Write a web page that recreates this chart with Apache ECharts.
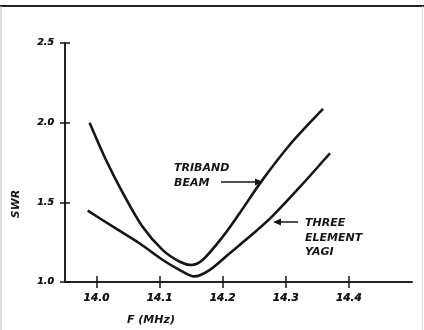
<!DOCTYPE html>
<html>
<head>
<meta charset="utf-8">
<script src="https://cdn.jsdelivr.net/npm/echarts@6/dist/echarts.min.js"></script>
<style>html,body{margin:0;padding:0;background:#fff;}#c{width:424px;height:330px;}</style>
</head>
<body>
<div id="c"></div>
<script>
// Data
var xTicks = [14.0, 14.1, 14.2, 14.3, 14.4];
var yTicks = [1.0, 1.5, 2.0, 2.5];
var tribandFreq = [13.989, 14.015, 14.042, 14.073, 14.105, 14.132, 14.150, 14.168, 14.200, 14.227, 14.261, 14.306, 14.359];
var tribandSwr  = [2.00, 1.766, 1.557, 1.347, 1.20, 1.127, 1.107, 1.138, 1.284, 1.433, 1.630, 1.860, 2.086];
var yagiFreq = [13.986, 14.026, 14.068, 14.105, 14.132, 14.155, 14.179, 14.211, 14.253, 14.278, 14.322, 14.370];
var yagiSwr  = [1.448, 1.347, 1.243, 1.138, 1.075, 1.035, 1.075, 1.180, 1.320, 1.410, 1.595, 1.808];
var seriesNames = ['TRIBAND\nBEAM', 'THREE\nELEMENT\nYAGI'];

function pairs(xs, ys) { return xs.map(function (x, i) { return [x, ys[i]]; }); }

var font = 'DejaVu Sans';
var ink = '#151515';
var chart = echarts.init(document.getElementById('c'), null, {renderer: 'canvas'});

var baseX = {
  type: 'value', min: 13.95, max: 14.5, position: 'bottom',
  splitLine: {show: false},
  axisLine: {show: true, lineStyle: {color: ink, width: 1.5}},
  axisTick: {show: true, customValues: xTicks, length: 6, lineStyle: {color: ink, width: 1.5}},
  axisLabel: {show: true, customValues: xTicks, margin: 11, color: ink, fontFamily: font, fontSize: 10.5,
    fontWeight: 'bold', fontStyle: 'italic', formatter: function (v) { return v.toFixed(1); }}
};
var baseY = {
  type: 'value', min: 1.0, max: 2.5, interval: 0.5, position: 'left',
  splitLine: {show: false},
  axisLine: {show: true, lineStyle: {color: ink, width: 1.5}},
  axisTick: {show: true, length: 5, lineStyle: {color: ink, width: 1.5}},
  axisLabel: {show: true, margin: 11, color: ink, fontFamily: font, fontSize: 9.5,
    fontWeight: 'bold', fontStyle: 'italic', formatter: function (v) { return v.toFixed(1); }}
};
var innerX = echarts.util.merge(echarts.util.clone(baseX), {
  axisLine: {show: false}, axisLabel: {show: false}, axisTick: {inside: true}
});
var innerY = echarts.util.merge(echarts.util.clone(baseY), {
  axisLine: {show: false}, axisLabel: {show: false}, axisTick: {inside: true}
});

var txt = {fontFamily: font, fontSize: 11, fontWeight: 'bold', fontStyle: 'italic', fill: ink};

chart.setOption({
  animation: false,
  backgroundColor: '#fff',
  grid: {left: 65, right: 12, top: 43, bottom: 48},
  xAxis: [baseX, innerX],
  yAxis: [baseY, innerY],
  series: [
    {name: seriesNames[0], type: 'line', xAxisIndex: 0, yAxisIndex: 0, data: pairs(tribandFreq, tribandSwr),
     smooth: 0.3, showSymbol: false, lineStyle: {color: ink, width: 2.6}},
    {name: seriesNames[1], type: 'line', xAxisIndex: 0, yAxisIndex: 0, data: pairs(yagiFreq, yagiSwr),
     smooth: 0.3, showSymbol: false, lineStyle: {color: ink, width: 2.6}}
  ],
  graphic: [
    {type: 'line', shape: {x1: 0, y1: 6, x2: 424, y2: 6}, style: {stroke: '#222', lineWidth: 2}},
    {type: 'line', shape: {x1: 1, y1: 6, x2: 1, y2: 330}, style: {stroke: '#bbb', lineWidth: 1}},
    {type: 'line', shape: {x1: 422.5, y1: 6, x2: 422.5, y2: 330}, style: {stroke: '#ddd', lineWidth: 1}},
    {type: 'text', left: 174, top: 161, style: echarts.util.extend({text: 'TRIBAND\nBEAM', lineHeight: 15}, txt)},
    {type: 'line', shape: {x1: 221, y1: 182, x2: 257, y2: 182}, style: {stroke: ink, lineWidth: 1.5}},
    {type: 'polygon', shape: {points: [[263, 182], [255, 178.5], [255, 185.5]]}, style: {fill: ink}},
    {type: 'text', left: 305, top: 216, style: echarts.util.extend({text: 'THREE\nELEMENT\nYAGI', lineHeight: 14.5}, txt)},
    {type: 'line', shape: {x1: 298, y1: 222, x2: 279, y2: 222}, style: {stroke: ink, lineWidth: 1.5}},
    {type: 'polygon', shape: {points: [[273, 222], [281, 218.5], [281, 225.5]]}, style: {fill: ink}},
    {type: 'text', left: 127, top: 315, style: echarts.util.extend({text: 'F (MHz)'}, txt)},
    {type: 'text', x: 16, y: 204, rotation: Math.PI / 2,
     style: echarts.util.extend({text: 'SWR', align: 'center', verticalAlign: 'middle'}, txt, {fontSize: 8.5, fontStyle: 'normal'})}
  ]
});
</script>
</body>
</html>
